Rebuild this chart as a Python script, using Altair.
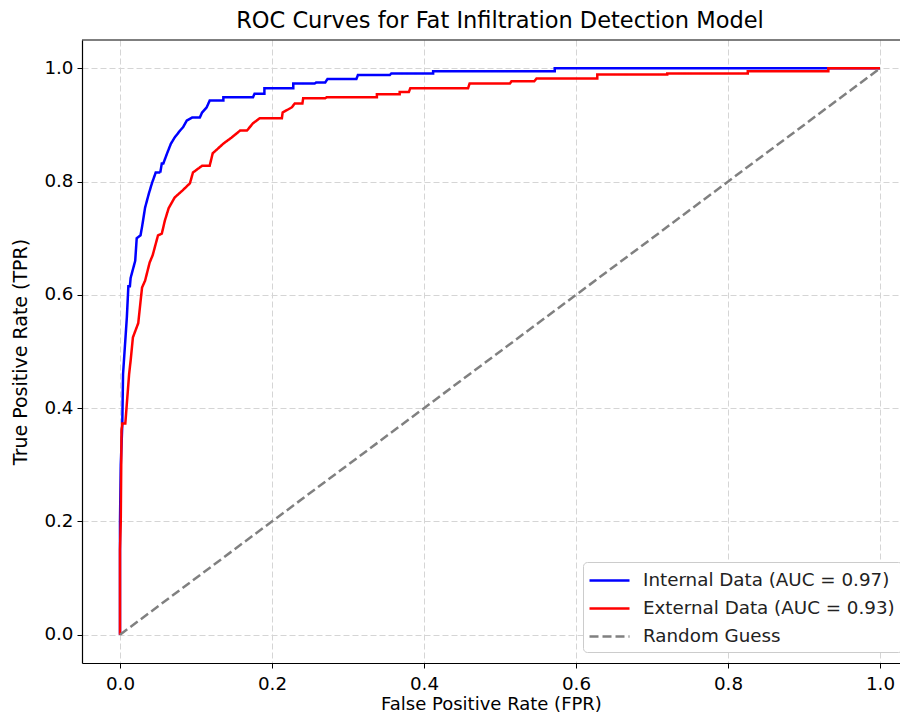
import altair as alt
import pandas as pd

# Internal data ROC (FPR, TPR)
int_fpr = [0.0, 0.0, 0.001, 0.003, 0.004, 0.007, 0.009, 0.011, 0.013, 0.014, 0.020, 0.022, 0.027,
           0.029, 0.033, 0.038, 0.042, 0.047, 0.053, 0.055, 0.057, 0.062, 0.067, 0.072, 0.079,
           0.083, 0.088, 0.095, 0.105, 0.108, 0.114, 0.118, 0.136, 0.136, 0.175, 0.177, 0.190,
           0.190, 0.228, 0.228, 0.256, 0.258, 0.270, 0.273, 0.311, 0.313, 0.355, 0.357, 0.412,
           0.412, 0.572, 0.572, 1.0]
int_tpr = [0.0, 0.20, 0.30, 0.37, 0.46, 0.52, 0.56, 0.615, 0.615, 0.63, 0.66, 0.70, 0.705,
           0.72, 0.754, 0.779, 0.797, 0.816, 0.816, 0.832, 0.832, 0.850, 0.867, 0.878, 0.890,
           0.896, 0.908, 0.913, 0.913, 0.922, 0.931, 0.943, 0.943, 0.949, 0.949, 0.955, 0.955,
           0.965, 0.965, 0.973, 0.973, 0.975, 0.975, 0.981, 0.981, 0.988, 0.988, 0.991, 0.991,
           0.995, 0.995, 1.0, 1.0]

# External data ROC (FPR, TPR)
ext_fpr = [0.0, 0.0, 0.001, 0.002, 0.003, 0.007, 0.009, 0.012, 0.014, 0.017, 0.024, 0.029, 0.033,
           0.039, 0.043, 0.050, 0.055, 0.059, 0.064, 0.072, 0.082, 0.092, 0.096, 0.108, 0.118,
           0.122, 0.136, 0.147, 0.158, 0.167, 0.175, 0.184, 0.213, 0.214, 0.226, 0.230, 0.240,
           0.241, 0.270, 0.272, 0.338, 0.338, 0.368, 0.368, 0.380, 0.382, 0.458, 0.460, 0.513,
           0.515, 0.545, 0.548, 0.628, 0.628, 0.720, 0.720, 0.826, 0.826, 0.932, 0.932, 1.0]
ext_tpr = [0.0, 0.15, 0.20, 0.36, 0.373, 0.373, 0.408, 0.46, 0.484, 0.525, 0.55, 0.613, 0.625,
           0.657, 0.67, 0.705, 0.708, 0.731, 0.753, 0.772, 0.784, 0.797, 0.816, 0.828, 0.828,
           0.850, 0.867, 0.878, 0.890, 0.890, 0.903, 0.912, 0.912, 0.922, 0.931, 0.938, 0.938,
           0.947, 0.947, 0.949, 0.949, 0.954, 0.954, 0.958, 0.958, 0.965, 0.965, 0.973, 0.973,
           0.977, 0.977, 0.982, 0.982, 0.989, 0.989, 0.991, 0.991, 0.995, 0.995, 1.0, 1.0]

diag_fpr = [0.0, 1.0]
diag_tpr = [0.0, 1.0]

series_names = ["Internal Data (AUC = 0.97)", "External Data (AUC = 0.93)", "Random Guess"]
series_colors = ["#0000ff", "#ff0000", "#808080"]
series_dash = [[1, 0], [1, 0], [9, 4]]
tick_vals = [0.0, 0.2, 0.4, 0.6, 0.8, 1.0]

rows = []
for i, (f, t) in enumerate(zip(int_fpr, int_tpr)):
    rows.append({"fpr": f, "tpr": t, "series": series_names[0], "idx": i})
for i, (f, t) in enumerate(zip(ext_fpr, ext_tpr)):
    rows.append({"fpr": f, "tpr": t, "series": series_names[1], "idx": i})
for i, (f, t) in enumerate(zip(diag_fpr, diag_tpr)):
    rows.append({"fpr": f, "tpr": t, "series": series_names[2], "idx": i})
df = pd.DataFrame(rows)

FONT = "DejaVu Sans"
W, H = 818, 623

xscale = alt.Scale(domain=[-0.05, 1.0263], nice=False, zero=False)
yscale = alt.Scale(domain=[-0.05, 1.05], nice=False, zero=False)

color = alt.Color("series:N", scale=alt.Scale(domain=series_names, range=series_colors),
                  legend=alt.Legend(title=None, orient="none", legendX=501, legendY=522,
                                    symbolType="M-2,0L2,0", symbolSize=400, symbolStrokeWidth=2.5,
                                    symbolOffset=8,
                                    labelFontSize=18.3, labelFont=FONT, labelColor="#222222",
                                    labelLimit=400,
                                    fillColor="white", strokeColor="#cccccc", cornerRadius=4,
                                    padding=7, rowPadding=8, labelOffset=22))
dash = alt.StrokeDash("series:N", scale=alt.Scale(domain=series_names, range=series_dash),
                      legend=None)

lines = alt.Chart(df).mark_line(strokeWidth=2.5).encode(
    x=alt.X("fpr:Q", scale=xscale,
            axis=alt.Axis(values=tick_vals, format=".1f", title="False Positive Rate (FPR)",
                          grid=True, gridDash=[6, 3], gridColor="#d5d5d5",
                          domainColor="black", tickColor="black", tickSize=5,
                          labelPadding=7, titlePadding=3, titleFontSize=18)),
    y=alt.Y("tpr:Q", scale=yscale,
            axis=alt.Axis(values=tick_vals, format=".1f", title="True Positive Rate (TPR)",
                          grid=True, gridDash=[6, 3], gridColor="#d5d5d5",
                          domainColor="black", tickColor="black", tickSize=5,
                          labelPadding=4, titlePadding=13, titleFontSize=19)),
    color=color,
    strokeDash=dash,
    order=alt.Order("idx:Q"),
)

top_spine = alt.Chart(pd.DataFrame({"k": [0]})).mark_rule(color="black", strokeWidth=1.2).encode(
    x=alt.value(0), x2=alt.value(W), y=alt.value(0)
)

chart = alt.layer(lines, top_spine).properties(
    width=W, height=H,
    title=alt.TitleParams("ROC Curves for Fat Infiltration Detection Model", fontSize=22.5,
                          font=FONT, fontWeight="normal", anchor="middle", dx=9, offset=7,
                          color="black"),
    autosize=alt.AutoSizeParams(type="none"),
    padding={"left": 74, "top": 32, "right": 0, "bottom": 51},
    background="white",
).configure_view(stroke=None).configure_axis(
    labelFont=FONT, titleFont=FONT, labelFontSize=18.3,
    labelColor="black", titleColor="black", titleFontWeight="normal", domainWidth=1.2,
)

chart.save("out.html", embed_options={"renderer": "svg", "actions": False})
